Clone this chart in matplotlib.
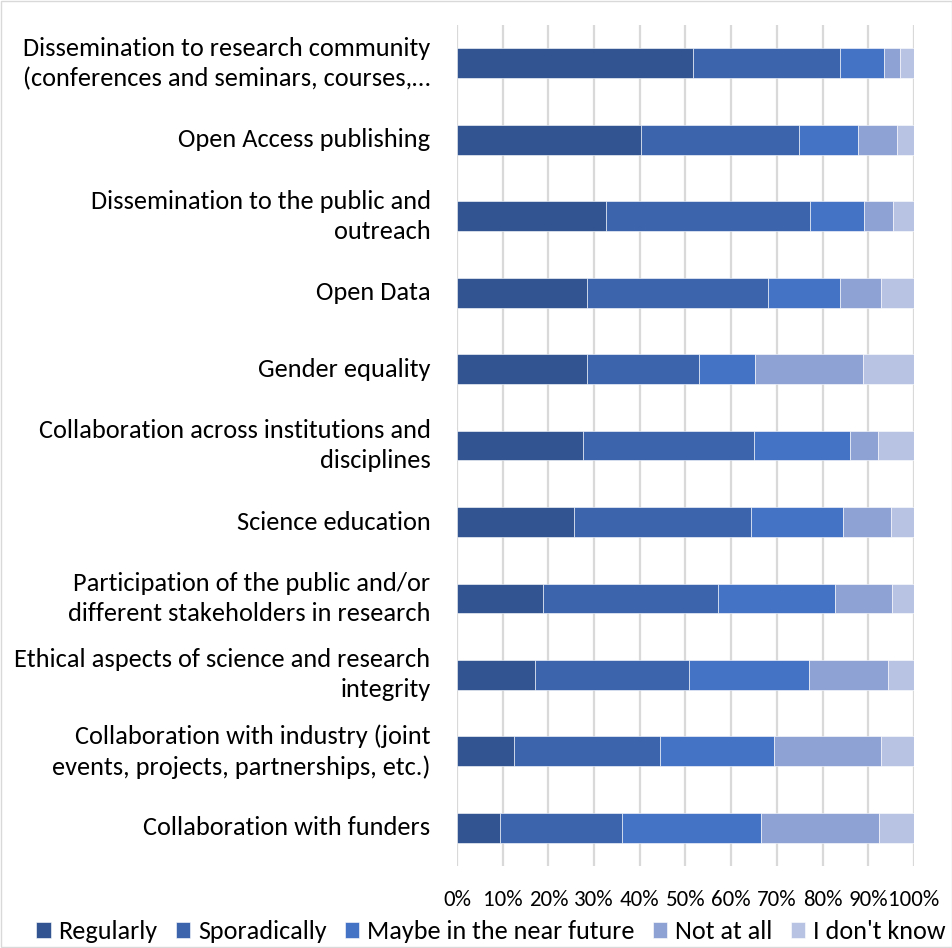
import matplotlib
matplotlib.use("Agg")
import matplotlib.pyplot as plt
from matplotlib.patches import Rectangle
from matplotlib.ticker import FixedLocator, FixedFormatter

categories = [
    "Dissemination to research community\n(conferences and seminars, courses,\u2026",
    "Open Access publishing",
    "Dissemination to the public and\noutreach",
    "Open Data",
    "Gender equality",
    "Collaboration across institutions and\ndisciplines",
    "Science education",
    "Participation of the public and/or\ndifferent stakeholders in research",
    "Ethical aspects of science and research\nintegrity",
    "Collaboration with industry (joint\nevents, projects, partnerships, etc.)",
    "Collaboration with funders",
]
series_names = ["Regularly", "Sporadically", "Maybe in the near future", "Not at all", "I don't know"]
regularly    = [51.6, 40.2, 32.6, 28.4, 28.4, 27.6, 25.6, 18.8, 17.1, 12.5, 9.5]
sporadically = [32.3, 34.6, 44.7, 39.6, 24.5, 37.5, 38.8, 38.4, 33.6, 32.0, 26.6]
maybe        = [9.5, 12.9, 11.7, 15.8, 12.3, 21.0, 20.0, 25.5, 26.3, 24.9, 30.4]
not_at_all   = [3.5, 8.5, 6.4, 9.1, 23.6, 6.0, 10.5, 12.6, 17.3, 23.5, 25.9]
dont_know    = [3.1, 3.8, 4.6, 7.1, 11.2, 7.9, 5.1, 4.7, 5.7, 7.1, 7.6]
tick_values = [0, 10, 20, 30, 40, 50, 60, 70, 80, 90, 100]
tick_labels = ["0%", "10%", "20%", "30%", "40%", "50%", "60%", "70%", "80%", "90%", "100%"]

colors = ["#325592", "#3c64ad", "#4472c4", "#8fa2d4", "#b8c2e3"]

plt.rcParams['font.family'] = ['Carlito', 'Liberation Sans Narrow', 'DejaVu Sans']

fig = plt.figure(figsize=(9.53, 9.48), dpi=100)
ax = fig.add_axes([0.4795, 0.0865, 0.4795, 0.887])

series = [regularly, sporadically, maybe, not_at_all, dont_know]
n = len(categories)
ypos = list(range(n))
left = [0.0] * n
for name, vals, c in zip(series_names, series, colors):
    ax.barh(ypos, vals, left=left, height=0.39, color=c, label=name,
            edgecolor="white", linewidth=0.4, zorder=3)
    left = [l + v for l, v in zip(left, vals)]

ax.set_xlim(0, 100)
ax.set_ylim(n - 0.5, -0.5)
ax.xaxis.set_major_locator(FixedLocator(tick_values))
ax.xaxis.set_major_formatter(FixedFormatter(tick_labels))
ax.set_yticks(ypos)
ax.set_yticklabels(categories, fontsize=19, color="#000000", linespacing=1.38, va="center")
ax.tick_params(axis="y", length=0, pad=19)
ax.tick_params(axis="x", length=0, pad=17, labelsize=16.5)
ax.grid(axis="x", color="#d9d9d9", linewidth=1.6, zorder=0)
for s in ax.spines.values():
    s.set_visible(False)

leg = fig.legend(loc="lower center", bbox_to_anchor=(0.515, -0.02), ncol=5,
                 frameon=False, fontsize=18.8, handlelength=0.55, handleheight=0.55,
                 handletextpad=0.3, columnspacing=0.7)

fig.patches.append(Rectangle((0.001, 0.001), 0.998, 0.998, transform=fig.transFigure,
                             fill=False, edgecolor="#d9d9d9", linewidth=1))

fig.savefig("out.png", dpi=100)
